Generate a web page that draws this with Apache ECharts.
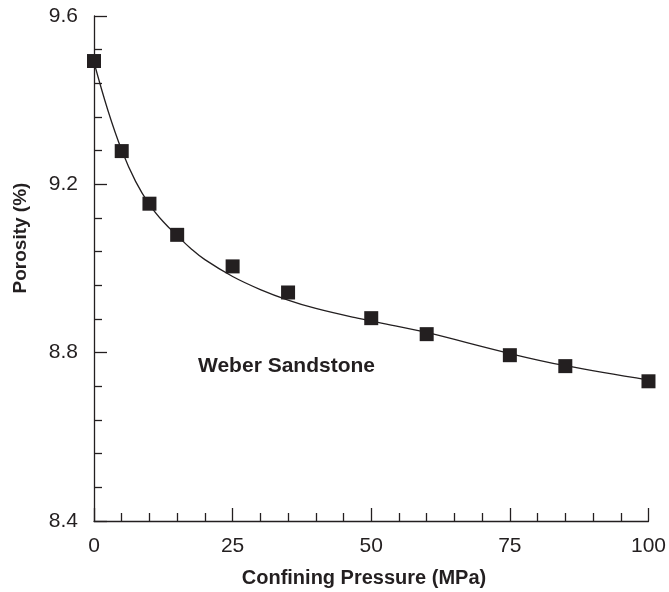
<!DOCTYPE html>
<html>
<head>
<meta charset="utf-8">
<script src="https://cdn.jsdelivr.net/npm/echarts@6/dist/echarts.min.js"></script>
<style>
  html, body { margin: 0; padding: 0; background: #fff; }
  #myChart { width: 669px; height: 592px; }
</style>
</head>
<body>
<div id="myChart"></div>
<script>
// measured points
var pressure = [0, 5, 10, 15, 25, 35, 50, 60, 75, 85, 100];
var porosity = [9.493, 9.279, 9.154, 9.080, 9.005, 8.943, 8.882, 8.844, 8.794, 8.768, 8.732];

// fitted curve
var fitX = [0, 2.5, 5, 7.5, 10, 12.5, 15, 17.5, 20, 25, 30, 35, 40, 47.5, 55, 60, 75, 85, 100];
var fitY = [9.49, 9.376, 9.281, 9.207, 9.152, 9.111, 9.078, 9.047, 9.021, 8.981, 8.950, 8.925, 8.905, 8.882, 8.862, 8.848, 8.798, 8.769, 8.735];

var xTicks = [0, 25, 50, 75, 100];
var yTicks = [8.4, 8.8, 9.2, 9.6];

var ink = '#231f20';
var font = '"Liberation Sans", Arial, sans-serif';

var pts = pressure.map(function (p, i) { return [p, porosity[i]]; });
var fit = fitX.map(function (p, i) { return [p, fitY[i]]; });

var option = {
  animation: false,
  grid: { left: 94, right: 19, top: 16, bottom: 71, containLabel: false },
  xAxis: {
    type: 'value',
    min: xTicks[0], max: xTicks[xTicks.length - 1], interval: 25,
    axisLine: { lineStyle: { color: ink, width: 1.3 } },
    axisTick: { inside: true, length: 13, lineStyle: { color: ink, width: 1.3 } },
    minorTick: { show: true, splitNumber: 5, length: 8, lineStyle: { color: ink, width: 1.3 } },
    splitLine: { show: false },
    axisLabel: { color: ink, fontSize: 21, fontFamily: font, margin: 15 }
  },
  yAxis: {
    type: 'value',
    min: yTicks[0], max: yTicks[yTicks.length - 1], interval: 0.4,
    axisLine: { show: true, lineStyle: { color: ink, width: 1.3 } },
    axisTick: { show: true, inside: true, length: 13, lineStyle: { color: ink, width: 1.3 } },
    minorTick: { show: true, splitNumber: 5, length: 8, lineStyle: { color: ink, width: 1.3 } },
    splitLine: { show: false },
    axisLabel: {
      color: ink, fontSize: 21, fontFamily: font, margin: 16,
      formatter: function (v) { return v.toFixed(1); }
    }
  },
  graphic: [
    {
      type: 'text', x: 21, y: 238, rotation: Math.PI / 2,
      style: { text: 'Porosity (%)', fill: ink, font: 'bold 19px ' + font, textAlign: 'center', textVerticalAlign: 'middle' }
    },
    {
      type: 'text', x: 364, y: 578,
      style: { text: 'Confining Pressure (MPa)', fill: ink, font: 'bold 20px ' + font, textAlign: 'center', textVerticalAlign: 'middle' }
    },
    {
      type: 'text', x: 198, y: 366,
      style: { text: 'Weber Sandstone', fill: ink, font: 'bold 21px ' + font, textAlign: 'left', textVerticalAlign: 'middle' }
    }
  ],
  series: [
    {
      name: 'fit',
      type: 'line',
      data: fit,
      smooth: 0.4,
      showSymbol: false,
      lineStyle: { color: ink, width: 1.3 },
      z: 2
    },
    {
      name: 'data',
      type: 'scatter',
      data: pts,
      symbol: 'rect',
      symbolSize: 14,
      itemStyle: { color: ink, opacity: 1 },
      z: 3
    }
  ]
};

var myChart = echarts.init(document.getElementById('myChart'));
myChart.setOption(option);
</script>
</body>
</html>
